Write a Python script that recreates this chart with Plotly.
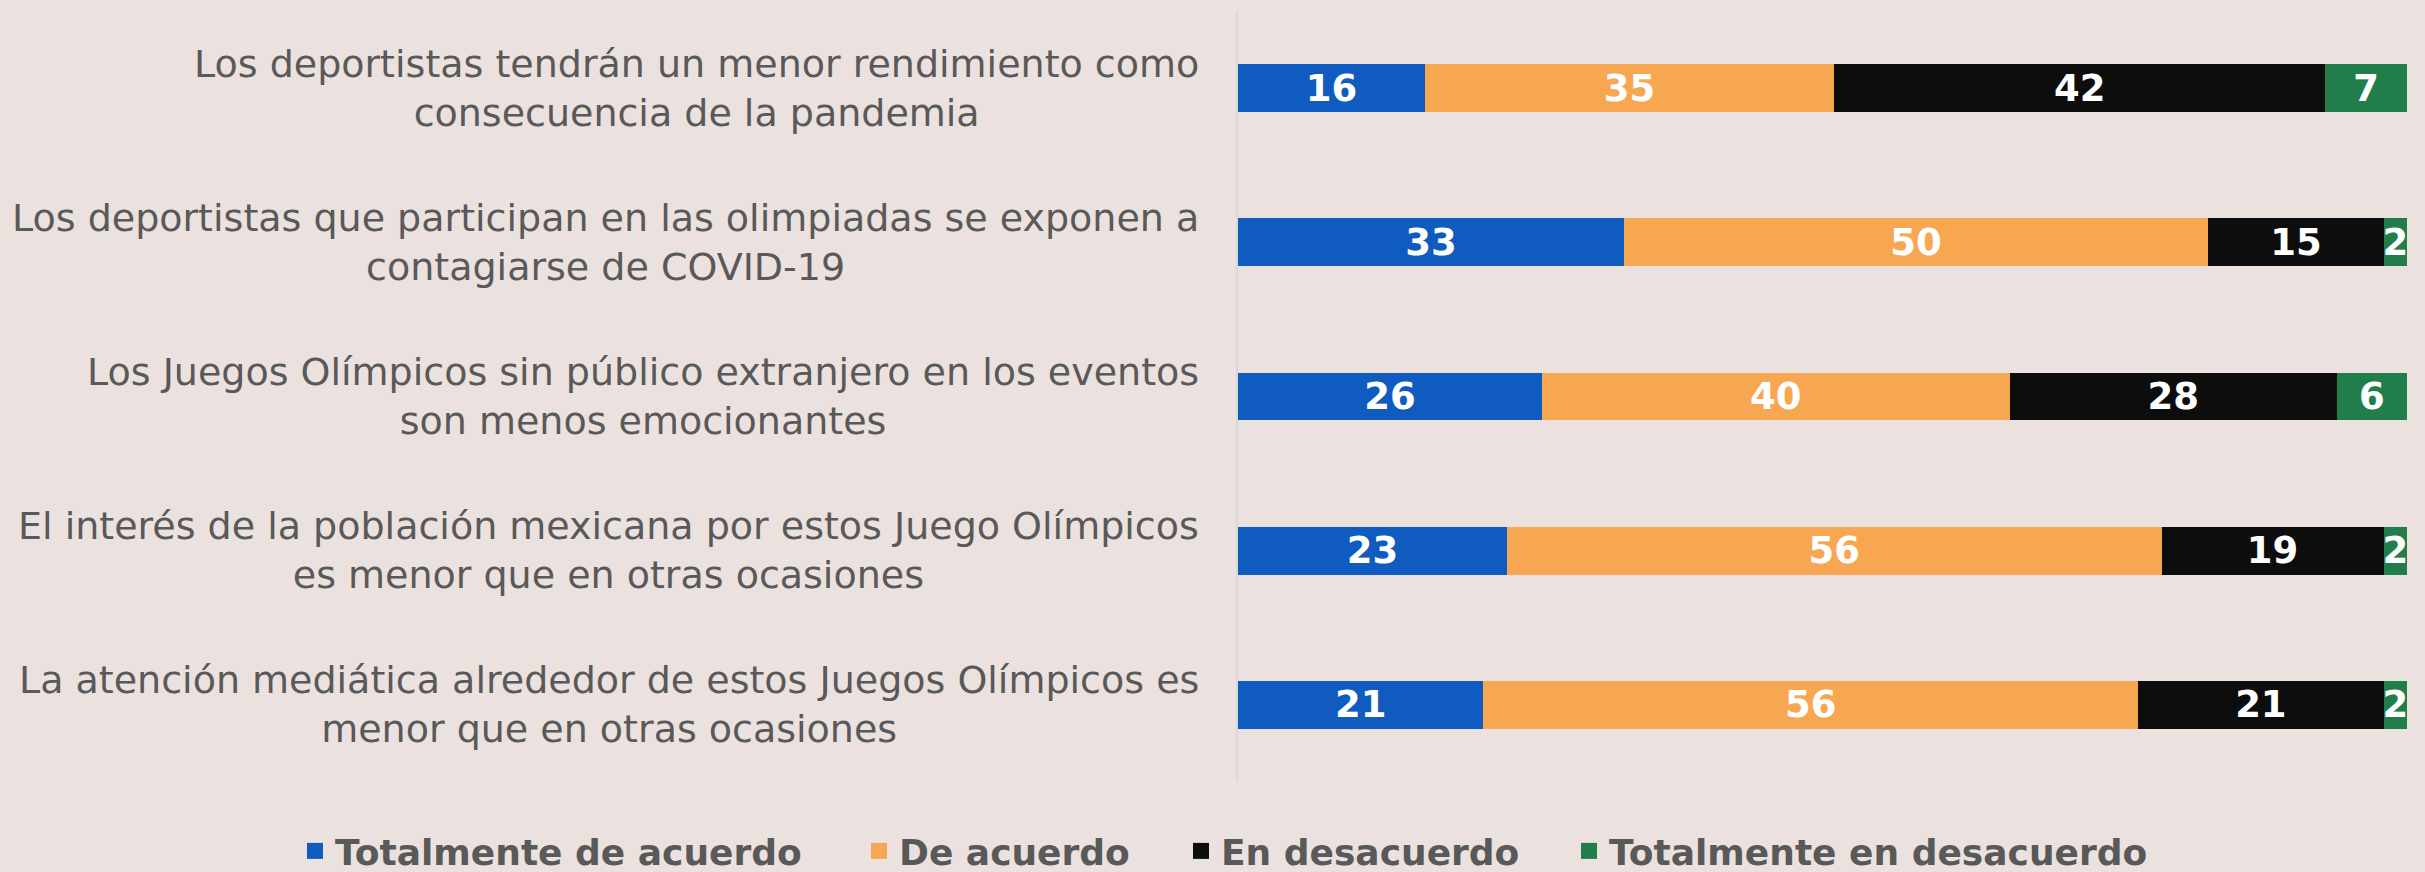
import plotly.graph_objects as go

categories = [
    "Los deportistas tendrán un menor rendimiento como<br>consecuencia de la pandemia",
    "Los deportistas que participan en las olimpiadas se exponen a<br>contagiarse de COVID-19",
    "Los Juegos Olímpicos sin público extranjero en los eventos<br>son menos emocionantes",
    "El interés de la población mexicana por estos Juego Olímpicos<br>es menor que en otras ocasiones",
    "La atención mediática alrededor de estos Juegos Olímpicos es<br>menor que en otras ocasiones",
]
series_names = ["Totalmente de acuerdo", "De acuerdo", "En desacuerdo", "Totalmente en desacuerdo"]
totalmente_de_acuerdo = [16, 33, 26, 23, 21]
de_acuerdo = [35, 50, 40, 56, 56]
en_desacuerdo = [42, 15, 28, 19, 21]
totalmente_en_desacuerdo = [7, 2, 6, 2, 2]
series_values = [totalmente_de_acuerdo, de_acuerdo, en_desacuerdo, totalmente_en_desacuerdo]
colors = ["#0F5BC0", "#F7A752", "#0D0D0D", "#217E4B"]

BG = "#EBE1DE"
FONT = "DejaVu Sans"
W, H = 2425, 872
L, R, T, B = 1238, 18, 11, 90

keys = list(range(len(categories)))

fig = go.Figure()
for name, vals, col in zip(series_names, series_values, colors):
    fig.add_trace(go.Bar(
        y=keys, x=vals, orientation="h", name=name,
        marker=dict(color=col, line=dict(width=0)),
        text=[str(v) for v in vals], textposition="inside", textangle=0,
        insidetextanchor="middle", constraintext="none",
        textfont=dict(family=FONT, size=37, color="white", weight="bold"),
        showlegend=False, hoverinfo="skip",
    ))

# legend entries (square markers), each in its own legend box
legend_x = [295, 859, 1181, 1569]
legend_ids = ["legend", "legend2", "legend3", "legend4"]
for name, col, lid in zip(series_names, colors, legend_ids):
    fig.add_trace(go.Scatter(
        x=[None], y=[None], mode="markers", name=name,
        marker=dict(symbol="square", size=22, color=col),
        showlegend=True, legend=lid,
    ))

leg_common = dict(
    orientation="h", xref="container", yref="container",
    xanchor="left", yanchor="middle", y=1 - 851 / H,
    bgcolor="rgba(0,0,0,0)", borderwidth=0,
    font=dict(family=FONT, size=36, color="#595959", weight="bold"),
)
layout_legends = {}
for lid, lx in zip(legend_ids, legend_x):
    layout_legends[lid] = dict(leg_common, x=lx / W)

for k, cat in zip(keys, categories):
    fig.add_annotation(
        x=0, y=k, xref="paper", yref="y", xanchor="right", yanchor="middle",
        xshift=-37, text=cat, showarrow=False, align="center",
        font=dict(family=FONT, size=38, color="#595959"),
    )

fig.update_layout(
    width=W, height=H,
    margin=dict(l=L, r=R, t=T, b=B, pad=0),
    paper_bgcolor=BG, plot_bgcolor=BG,
    barmode="stack", bargap=0.69,
    xaxis=dict(range=[0, 100], visible=False, fixedrange=True),
    yaxis=dict(range=[len(categories) - 0.5, -0.5], showticklabels=False,
               showgrid=False, zeroline=False, showline=True,
               linecolor="#D9D9D9", linewidth=2, ticks="", fixedrange=True),
    **layout_legends,
)

fig.write_html("out.html", config={"displayModeBar": False},
               post_script="document.body.style.margin='0';")
